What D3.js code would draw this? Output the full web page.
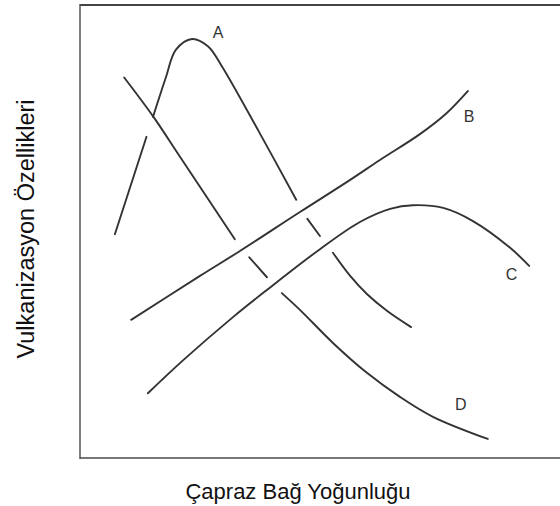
<!DOCTYPE html>
<html>
<head>
<meta charset="utf-8">
<script src="https://cdn.jsdelivr.net/npm/d3@7"></script>
<style>
  html, body { margin: 0; padding: 0; background: #fff; }
  svg { display: block; }
  text { font-family: "Liberation Sans", Arial, sans-serif; }
</style>
</head>
<body>
<svg id="chart" width="560" height="506"></svg>
<script>
// ---- Data (schematic values on a 0–100 scale) ----
const curveNames = ["A", "B", "C", "D"];

// Each curve is a list of segments (gaps where it passes behind another curve)
const curveA = [
  [[7.5, 49.4], [14.3, 70.9]],
  [[15.7, 75.3], [18.5, 84.1], [20.6, 90.1], [24.1, 92.5], [27.5, 90.9], [30.5, 86.5], [38.5, 72.0], [46.5, 57.0]],
  [[48.9, 52.8], [51.6, 49.0]],
  [[54.4, 45.3], [58.1, 40.2], [61.7, 36.2], [66.0, 32.5], [71.2, 28.9]]
];
const curveB = [
  [[11.0, 30.5], [25.8, 40.2], [34.4, 45.7], [47.3, 54.3], [58.1, 61.4], [64.5, 65.8], [73.1, 71.5], [78.7, 76.0], [83.4, 81.0]]
];
const curveC = [
  [[14.6, 14.3], [22.2, 21.6], [32.9, 31.1], [40.2, 37.1], [51.6, 46.1], [60.2, 52.1], [66.7, 55.0], [71.6, 55.8], [78.1, 55.2], [84.5, 52.3], [92.5, 46.4], [96.6, 42.4]]
];
const curveD = [
  [[9.5, 84.0], [15.8, 75.3], [21.5, 66.5], [33.3, 48.3]],
  [[36.4, 44.3], [40.2, 39.9]],
  [[43.4, 36.4], [47.3, 32.7], [54.4, 25.4], [61.7, 18.8], [68.8, 13.5], [75.9, 9.1], [87.7, 4.2]]
];
const labelPositions = [[29.7, 93.9], [83.7, 75.3], [92.8, 40.4], [81.9, 11.9]];

const xAxisTitle = "Çapraz Bağ Yoğunluğu";
const yAxisTitle = "Vulkanizasyon Özellikleri";

// ---- Layout ----
const W = 560, H = 506;
const mLeft = 80, mRight = 545, mTop = 5, mBottom = 458;

const x = d3.scaleLinear().domain([0, 100]).range([mLeft, mRight]);
const y = d3.scaleLinear().domain([0, 100]).range([mBottom, mTop]);

const svg = d3.select("#chart");

// Frame: left, top and bottom lines (no right edge)
svg.append("line").attr("x1", mLeft).attr("x2", W).attr("y1", mTop).attr("y2", mTop)
  .attr("stroke", "#444").attr("stroke-width", 2);
svg.append("line").attr("x1", mLeft).attr("x2", W).attr("y1", mBottom).attr("y2", mBottom)
  .attr("stroke", "#777").attr("stroke-width", 2);
svg.append("line").attr("x1", mLeft).attr("x2", mLeft).attr("y1", mTop - 1).attr("y2", mBottom + 1)
  .attr("stroke", "#555").attr("stroke-width", 1.5);

const line = d3.line().x(d => x(d[0])).y(d => y(d[1])).curve(d3.curveCatmullRom.alpha(0.5));

const curves = [curveA, curveB, curveC, curveD];
curves.forEach(segs => {
  segs.forEach(seg => {
    svg.append("path").attr("d", line(seg))
      .attr("fill", "none").attr("stroke", "#333").attr("stroke-width", 1.9)
      .attr("stroke-linecap", "round");
  });
});

curveNames.forEach((n, i) => {
  svg.append("text").attr("x", x(labelPositions[i][0])).attr("y", y(labelPositions[i][1]))
    .attr("text-anchor", "middle").attr("dominant-baseline", "central")
    .attr("font-size", 16).attr("fill", "#333").text(n);
});

// Axis titles
svg.append("text").attr("x", 298).attr("y", 499)
  .attr("text-anchor", "middle").attr("font-size", 22).attr("fill", "#111").text(xAxisTitle);
svg.append("text").attr("transform", `translate(34, ${229}) rotate(-90)`)
  .attr("text-anchor", "middle").attr("font-size", 23.5).attr("fill", "#111").text(yAxisTitle);
</script>
</body>
</html>
